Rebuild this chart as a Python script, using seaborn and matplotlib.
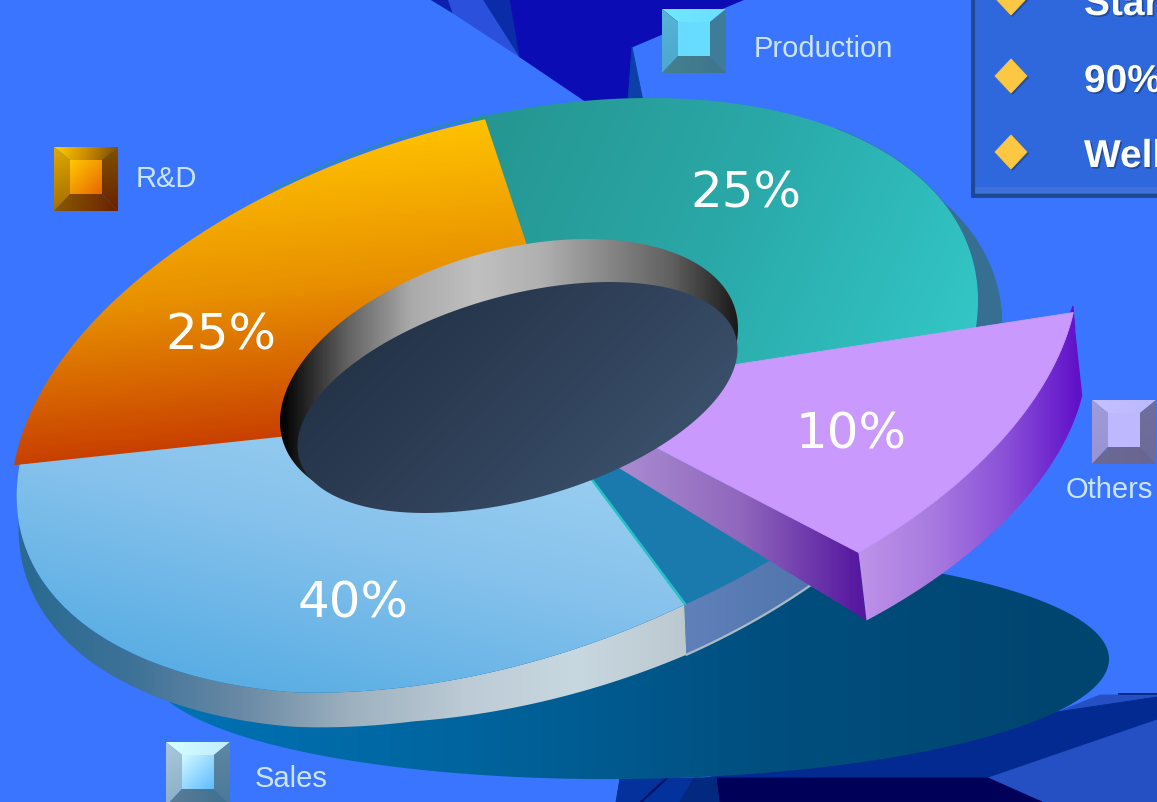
import numpy as np
import matplotlib
matplotlib.use("Agg")
import matplotlib.pyplot as plt
import matplotlib.patheffects as pe
from matplotlib.patches import Polygon
import seaborn as sns

# ---- data ----
categories = ["R&D", "Production", "Others", "Sales"]
shares = [25, 25, 10, 40]
bullets = ["Start", "90%", "Well"]

# ---- style / projection of the tilted disc (pixel space) ----
BG = "#3975FF"
top_tilt = dict(c=(496, 397), a=482, b=95.2, d=282.4)
angle_anchor = [174, 91, -6, -67, -186]     # projected angle at each cumulative share edge
slice_apex = {"R&D": (580, 406), "Production": (580, 406), "Sales": (537, 408)}
label_xy = {"R&D": (221, 336), "Production": (746, 194), "Others": (851, 435), "Sales": (353, 604)}
key_xy = {"R&D": (54, 148), "Production": (662, 10), "Others": (1092, 401), "Sales": (166, 743)}
key_text = {"R&D": (136, 179, "left"), "Production": (754, 49, "left"),
            "Others": (1066, 490, "left"), "Sales": (255, 779, "left")}
key_cols = {
    "R&D": dict(top=["#FFD000", "#D09000", "#805000"], left=["#E0A800", "#A87000"], right=["#7E5000", "#6A2000"],
                bottom=["#8A5A00", "#6A2000"], inner=["#FFC800", "#E86800"]),
    "Production": dict(top=["#70E8FF", "#6CE0FF"], left=["#56B4DA", "#4CA8CC"], right=["#3E7C9A", "#3E7C9A"],
                       bottom=["#44808F", "#40748C"], inner=["#68DCFF", "#68DCFF"]),
    "Others": dict(top=["#C4C0FF", "#BEB9FF"], left=["#A09CDC", "#9894D4"], right=["#706E9C", "#6C6A98"],
                   bottom=["#6C6A94", "#686690"], inner=["#BEB9FF", "#BEB9FF"]),
    "Sales": dict(top=["#D8FFFF", "#C0EEFF"], left=["#A8C8DC", "#8CB0C8"], right=["#5C88A4", "#4C7898"],
                  bottom=["#5C7C98", "#3E7090"], inner=["#D0F8FF", "#60BCFF"]),
}

sns.set_theme(style="white")
plt.rcParams["font.family"] = ["Liberation Sans", "DejaVu Sans"]

fig = plt.figure(figsize=(11.57, 8.03), dpi=100, facecolor=BG)
ax = fig.add_axes([0, 0, 1, 1], facecolor=BG)
ax.set_axis_off()


def ell(c, a, b, d, t_deg):
    t = np.radians(np.asarray(t_deg, float))
    return np.column_stack([c[0] + a * np.cos(t), c[1] - b * np.cos(t) - d * np.sin(t)])


def solid(pts, color, z, **kw):
    ax.add_patch(Polygon(pts, closed=True, fc=color, ec=color, lw=0.6, zorder=z, **kw))


def grad(pts, colors, vec, z, span=None):
    pts = np.asarray(pts, float)
    x0, y0 = np.floor(pts.min(0))
    x1, y1 = np.ceil(pts.max(0))
    w, h = max(int(x1 - x0), 1), max(int(y1 - y0), 1)
    X, Y = np.meshgrid(np.linspace(x0, x1, w), np.linspace(y0, y1, h))
    proj = X * vec[0] + Y * vec[1]
    pv = pts[:, 0] * vec[0] + pts[:, 1] * vec[1]
    lo, hi = span if span else (pv.min(), pv.max())
    cmap = sns.blend_palette(colors, as_cmap=True)
    im = ax.imshow((proj - lo) / (hi - lo), extent=(x0, x1, y1, y0), cmap=cmap, vmin=0, vmax=1,
                   aspect="auto", interpolation="bilinear", zorder=z)
    patch = Polygon(pts, closed=True, transform=ax.transData, fc="none", ec="none")
    im.set_clip_path(patch)


def arc(t1, t2, n=160):
    ts = np.linspace(t1, t2, n)
    pts = ell(top_tilt["c"], top_tilt["a"], top_tilt["b"], top_tilt["d"], ts)
    # perspective flattening of the near right-hand rim
    pts[:, 1] += np.interp(ts, [-115, -67, -40, -15], [0, -14, -14, 0])
    return pts


# ---- background decorations ----
solid([(430, 0), (450, 0), (453, 14)], "#0C20B0", 2)
solid([(448, 0), (483, 0), (520, 58), (453, 14)], "#2A50DC", 2)
solid([(483, 0), (510, 0), (520, 58)], "#0A2CA8", 2)
solid([(510, 0), (745, 0), (632, 48), (628, 102), (585, 102), (520, 58)], "#0C0CB4", 2)
solid([(632, 48), (643, 102), (628, 102)], "#0A40A8", 3)
solid([(1118, 694), (1157, 694), (1157, 696), (1118, 696)], "#001A70", 1)
solid([(1100, 696), (1157, 696), (1157, 698), (1050, 716)], "#2450C4", 1)
solid([(700, 780), (1050, 714), (1157, 698), (1157, 726), (988, 779)], "#022A90", 1)
solid([(988, 779), (1157, 721), (1157, 803), (1042, 803)], "#2450C4", 1)
solid([(716, 779), (988, 779), (1042, 803), (719, 803)], "#000058", 1)
solid([(620, 779), (716, 779), (719, 803), (616, 803)], "#03329C", 1)
solid([(694, 779), (716, 779), (719, 803), (680, 803)], "#03287F", 1.2)
ax.plot([641, 667], [803, 779], color="#00146A", lw=1.6, zorder=1.5)

# text box
solid([(971, -5), (1160, -5), (1160, 198), (971, 198)], "#1D4894", 2)
solid([(975, -5), (1160, -5), (1160, 194), (975, 194)], "#2F68DD", 2.1)
solid([(975, 188), (1160, 188), (1160, 193), (975, 193)], "#3E72D8", 2.2)
for label, y, base in zip(bullets, [-1, 77, 153], [16, 93, 168]):
    solid([(1011 + 1.5, y - 17 + 1.5), (1027 + 1.5, y + 1.5), (1011 + 1.5, y + 17 + 1.5), (995 + 1.5, y + 1.5)],
          "#244E9C", 2.3)
    solid([(1011, y - 17), (1027, y), (1011, y + 17), (995, y)], "#FCC843", 2.4)
    ax.text(1084, base, label, color="white", fontsize=28, fontweight="bold", va="baseline", ha="left", zorder=2.5,
            path_effects=[pe.withSimplePatchShadow(offset=(1.2, -1.2), shadow_rgbFace="#1D4894", alpha=0.9)])

# legend keys (bevelled squares)
S, B = 64, 16
for name in categories:
    x, y = key_xy[name]
    c = key_cols[name]
    o = [(x, y), (x + S, y), (x + S, y + S), (x, y + S)]
    i = [(x + B, y + 13), (x + S - B, y + 13), (x + S - B, y + S - 17), (x + B, y + S - 17)]
    grad([o[0], o[1], i[1], i[0]], c["top"], (1, 0.3), 4)
    grad([o[0], i[0], i[3], o[3]], c["left"], (0.3, 1), 4)
    grad([o[1], o[2], i[2], i[1]], c["right"], (0.2, 1), 4)
    grad([o[3], i[3], i[2], o[2]], c["bottom"], (1, 0.1), 4)
    grad(i, c["inner"], (1, 1), 4.1)
    tx, ty, ha = key_text[name]
    ax.text(tx, ty, name, color="#CBE5FF", fontsize=21, va="center", ha=ha, zorder=4.2)

# ---- floor shadow ellipse ----
shadow = ell((629, 665), 480, 5, 115, np.linspace(0, 360, 360))
grad(shadow, ["#0072B4", "#00659F", "#004F7F", "#004570"], (1, 0), 5, span=(157, 1060))

# ---- slices from the shares ----
edges = np.cumsum([0] + shares) / np.sum(shares)
angle_at = dict(zip(edges, angle_anchor))
span_of = {name: (angle_at[edges[i]], angle_at[edges[i + 1]]) for i, name in enumerate(categories)}

# Production side wall (behind)
t1, t2 = 45, span_of["Production"][1] - 9
upper = arc(t1, t2)
solid(np.vstack([upper, (upper + (24, 25))[::-1]]), "#366F92", 6)

# gap left by the exploded slice
t_o1, t_o2 = span_of["Others"]
a_s = slice_apex["Sales"]
solid(np.vstack([[a_s], arc(t_o1, t_o2)]), "#1A7AAE", 6.2)
g_up = arc(t_o2, -40, 60)
g_low = g_up + (2, 50)
grad(np.vstack([g_up, g_low[::-1]]), ["#6080BA", "#4A70A8"], (1, 0), 6.4)
ax.plot(g_low[:, 0], g_low[:, 1], color="#A9BCC6", lw=1.6, zorder=6.5)

# Sales wall
t1, t2 = span_of["Sales"]
t_vals = np.linspace(t1, t2, 240)
sales_shift = np.column_stack([np.interp(t_vals, [-186, -140], [3, 0]),
                               np.interp(t_vals, [-186, -140], [3, 0])])
s_up = arc(t1, t2, 240) + sales_shift
dy = np.interp(t_vals, [-186, -100, -67], [33, 35, 50])
dx = np.interp(t_vals, [-186, -67], [2, 2])
s_low = s_up + np.column_stack([dx, dy])
grad(np.vstack([s_up, s_low[::-1]]),
     ["#2A6A90", "#3E7298", "#6A8AA5", "#9FB2C0", "#BCCBD5", "#C8D8E0", "#BCC8D0"], (1, 0), 7, span=(20, 690))

# top faces
top_colors = {
    "R&D": (["#FFC100", "#E89000", "#C84000"], (0.1, 1)),
    "Production": (["#259590", "#2AA8A8", "#33C6C6"], (1, 0.45)),
    "Sales": (["#A0D2F2", "#86C2EC", "#5AAEE4"], (-0.25, 1)),
}
ax.plot(*arc(91, 118, 40).T, color="#249490", lw=1.0, zorder=7.5)
for name in ["Sales", "Production", "R&D"]:
    t1, t2 = span_of[name]
    if name == "Production":
        t1 += 2
    rim_pts = arc(t1, t2, 240)
    if name == "R&D":
        rim_pts = rim_pts + (-2.5, 4)
    if name == "Sales":
        rim_pts = rim_pts + sales_shift
    poly = np.vstack([[slice_apex[name]], rim_pts])
    cols, vec = top_colors[name]
    grad(poly, cols, vec, 8 if name != "R&D" else 8.1)
ax.plot([590, 685], [478, 605], color="#22C4C4", lw=1.8, zorder=8.2)

# exploded slice
o_kw = dict(c=(596, 367), a=482, b=95.2, d=282.4)
o_t = np.linspace(-8, -57, 100)
o_up = ell(o_kw["c"], o_kw["a"], o_kw["b"], o_kw["d"], o_t) + (0, 1.5)
o_low = o_up + np.column_stack([np.linspace(9, 8, 100), np.linspace(83, 68, 100)])
corner_hi, corner_lo = o_up[-1], o_low[-1]
grad([(600, 420), corner_hi, corner_lo, (580, 445)], ["#A98AD0", "#8F66BC", "#5618A0"], (1, 0), 9, span=(625, 860))
grad(np.vstack([o_up, o_low[::-1]]), ["#BD92E8", "#A87AE0", "#8A50D8", "#6010C8"], (1, 0), 9.1, span=(860, 1080))
solid([(1073, 307), (1075, 330), (1064, 330)], "#6010C8", 9.05)
solid(np.vstack([[(551, 394)], o_up]), "#CA99FD", 9.2)

# hole: inner wall then floor
rim = ell((509, 376), 229, 46.5, 127.8, np.linspace(0, 360, 360))
grad(rim, ["#000000", "#606060", "#AAAAAA", "#C0C0C0", "#B0B0B0", "#888888", "#606060", "#1A1A1A"],
     (1, 0), 10)
floor = ell((517.5, 398.5), 220, 48.3, 104.9, np.linspace(0, 360, 360))
grad(floor, ["#243449", "#2F4058", "#3A4F6A"], (1, 1), 10.1)

# percent labels
for name, value in zip(categories, shares):
    x, y = label_xy[name]
    ax.text(x, y, f"{value}%", color="white", family="DejaVu Sans", fontsize=36,
            ha="center", va="center", zorder=12)

ax.set_xlim(0, 1157)
ax.set_ylim(803, 0)
fig.savefig("out.png", dpi=100, facecolor=BG)
